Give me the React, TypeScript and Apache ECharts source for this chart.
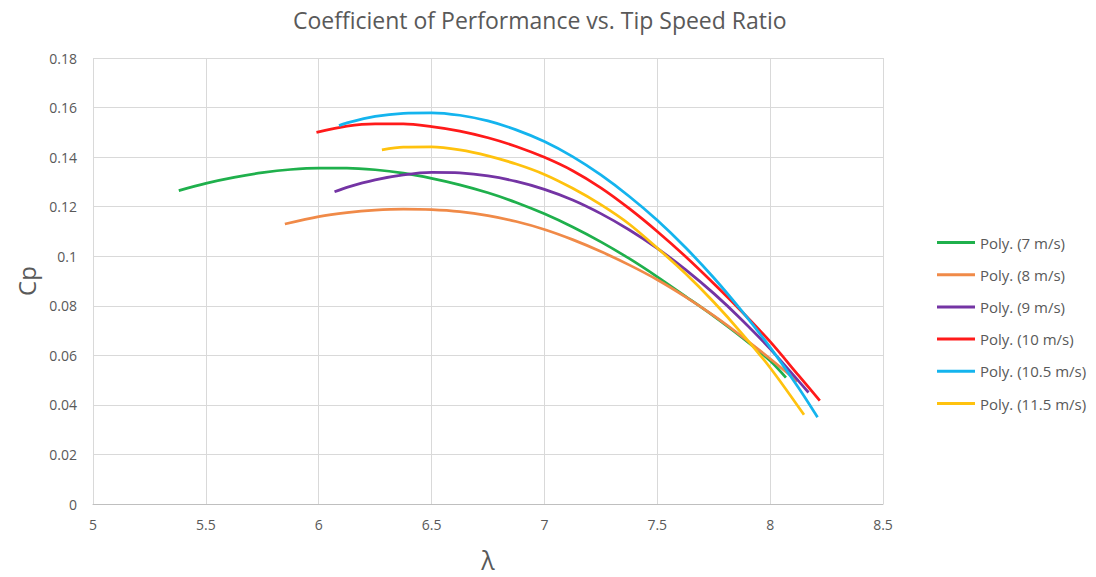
import React, { useEffect, useRef } from "react";
import * as echarts from "echarts";

const seriesNames = ["Poly. (7 m/s)", "Poly. (8 m/s)", "Poly. (9 m/s)", "Poly. (10 m/s)", "Poly. (10.5 m/s)", "Poly. (11.5 m/s)"];
const seriesColors = ["#1fb04c", "#f08a48", "#7434a4", "#ff1a1a", "#14b4ee", "#ffc20e"];

const lambda7 = [5.38, 5.5, 5.625, 5.75, 5.875, 6.0, 6.125, 6.25, 6.375, 6.5, 6.625, 6.75, 6.875, 7.0, 7.125, 7.25, 7.375, 7.5, 7.625, 7.75, 7.875, 8.0, 8.07];
const cp7 = [0.1265, 0.1294, 0.1318, 0.1337, 0.135, 0.1356, 0.1356, 0.1349, 0.1335, 0.1314, 0.1288, 0.1256, 0.1217, 0.1171, 0.1118, 0.1058, 0.0991, 0.0917, 0.0838, 0.0758, 0.0672, 0.0578, 0.051];

const lambda8 = [5.85, 6.0, 6.125, 6.25, 6.375, 6.5, 6.625, 6.75, 6.875, 7.0, 7.125, 7.25, 7.375, 7.5, 7.625, 7.75, 7.875, 8.0, 8.12];
const cp8 = [0.113, 0.116, 0.1176, 0.1186, 0.119, 0.1188, 0.118, 0.1164, 0.114, 0.1108, 0.1067, 0.1019, 0.0965, 0.0905, 0.0836, 0.076, 0.0676, 0.0586, 0.0495];

const lambda9 = [6.07, 6.125, 6.25, 6.375, 6.5, 6.625, 6.75, 6.875, 7.0, 7.125, 7.25, 7.375, 7.5, 7.625, 7.75, 7.875, 8.0, 8.17];
const cp9 = [0.126, 0.1278, 0.1308, 0.1328, 0.1338, 0.1336, 0.1324, 0.1302, 0.127, 0.1227, 0.1172, 0.1107, 0.1032, 0.0946, 0.085, 0.0743, 0.0626, 0.045];

const lambda10 = [5.99, 6.125, 6.25, 6.375, 6.5, 6.625, 6.75, 6.875, 7.0, 7.125, 7.25, 7.375, 7.5, 7.625, 7.75, 7.875, 8.0, 8.125, 8.22];
const cp10 = [0.15, 0.1525, 0.1534, 0.1534, 0.1523, 0.1505, 0.1478, 0.1443, 0.1399, 0.1345, 0.1276, 0.1193, 0.11, 0.0999, 0.089, 0.0776, 0.0655, 0.052, 0.0417];

const lambda105 = [6.09, 6.125, 6.25, 6.375, 6.5, 6.625, 6.75, 6.875, 7.0, 7.125, 7.25, 7.375, 7.5, 7.625, 7.75, 7.875, 8.0, 8.125, 8.21];
const cp105 = [0.1527, 0.1538, 0.1564, 0.1577, 0.1579, 0.1569, 0.1546, 0.151, 0.1463, 0.1402, 0.1328, 0.1242, 0.1145, 0.1035, 0.0913, 0.0778, 0.0632, 0.047, 0.035];

const lambda115 = [6.28, 6.375, 6.5, 6.625, 6.75, 6.875, 7.0, 7.125, 7.25, 7.375, 7.5, 7.625, 7.75, 7.875, 8.0, 8.15];
const cp115 = [0.1429, 0.144, 0.1441, 0.1429, 0.1405, 0.1372, 0.133, 0.1274, 0.1208, 0.113, 0.1033, 0.093, 0.0815, 0.0688, 0.055, 0.036];

const allLambda = [lambda7, lambda8, lambda9, lambda10, lambda105, lambda115];
const allCp = [cp7, cp8, cp9, cp10, cp105, cp115];

const xTicks = { min: 5, max: 8.5, interval: 0.5 };
const yTicks = { min: 0, max: 0.18, interval: 0.02 };

const FONT = "'Open Sans', 'Noto Sans', sans-serif";
const TEXT = "#595959";

export default function App() {
  const ref = useRef<HTMLDivElement>(null);
  useEffect(() => {
    if (!ref.current) return;
    const chart = echarts.init(ref.current, undefined, { renderer: "svg" });
    chart.setOption({
      animation: false,
      backgroundColor: "#ffffff",
      title: {
        text: "Coefficient of Performance vs. Tip Speed Ratio",
        left: 288,
        top: 3,
        textStyle: { fontFamily: FONT, fontSize: 23, fontWeight: "normal", color: TEXT },
      },
      grid: { left: 93, right: 213, top: 58, bottom: 73, outerBoundsMode: "none", containLabel: false },
      legend: {
        orient: "vertical",
        left: 932,
        top: 230,
        icon: "rect",
        itemWidth: 38,
        itemHeight: 3,
        itemGap: 17.2,
        textStyle: { fontFamily: FONT, fontSize: 15, color: TEXT },
        data: seriesNames,
      },
      xAxis: {
        type: "value",
        min: xTicks.min,
        max: xTicks.max,
        interval: xTicks.interval,
        name: "λ",
        nameLocation: "middle",
        nameGap: 43,
        nameTextStyle: { fontFamily: FONT, fontSize: 25, lineHeight: 26, color: TEXT },
        axisLine: { show: true, lineStyle: { color: "#bfbfbf" } },
        axisTick: { show: false },
        axisLabel: { fontFamily: FONT, fontSize: 14, color: TEXT, margin: 13 },
        splitLine: { show: true, lineStyle: { color: "#d9d9d9" } },
      },
      yAxis: {
        type: "value",
        min: yTicks.min,
        max: yTicks.max,
        interval: yTicks.interval,
        name: "Cp",
        nameLocation: "middle",
        nameGap: 50,
        nameRotate: 90,
        nameTextStyle: { fontFamily: FONT, fontSize: 24, color: TEXT },
        axisLine: { show: false },
        axisTick: { show: false },
        axisLabel: { fontFamily: FONT, fontSize: 14, color: TEXT, margin: 16 },
        splitLine: { show: true, lineStyle: { color: "#d9d9d9" } },
      },
      series: seriesNames.map((name, i) => ({
        name,
        type: "line",
        smooth: 0.3,
        showSymbol: false,
        symbol: "none",
        color: seriesColors[i],
        lineStyle: { width: 2.75, color: seriesColors[i] },
        data: allLambda[i].map((x, j) => [x, allCp[i][j]]),
      })),
    });
    return () => chart.dispose();
  }, []);
  return <div ref={ref} style={{ position: "fixed", left: 0, top: 0, width: 1096, height: 577 }} />;
}
